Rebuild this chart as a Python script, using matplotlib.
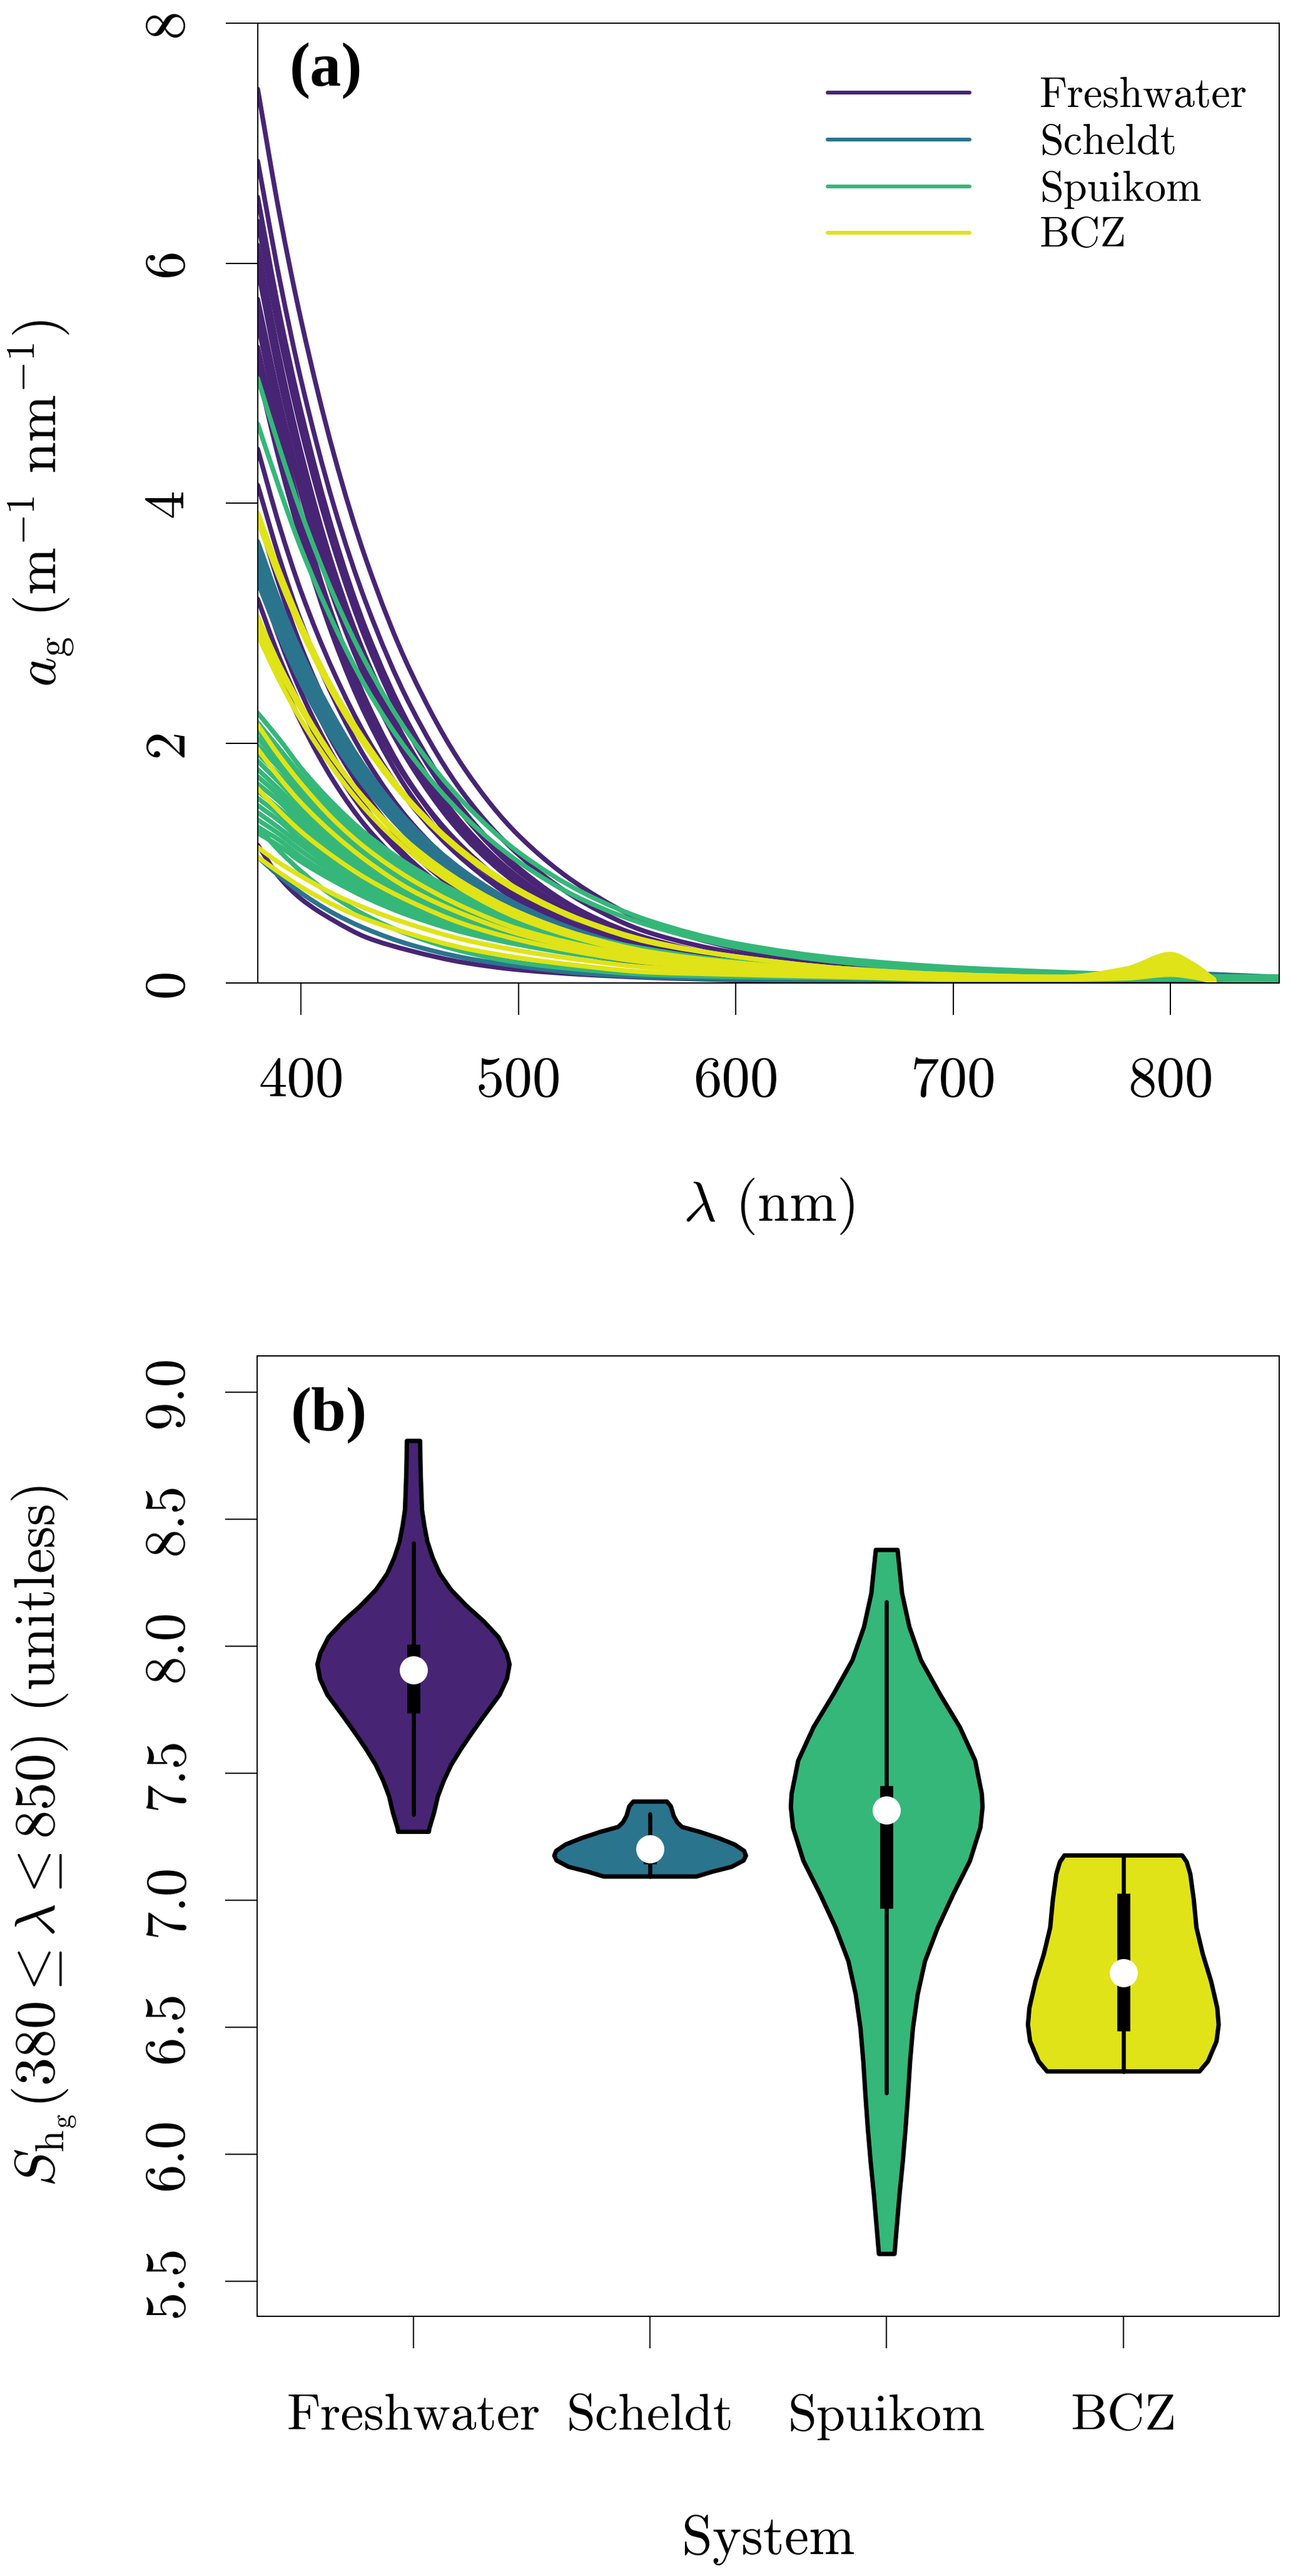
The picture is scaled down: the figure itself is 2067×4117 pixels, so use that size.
import numpy as np
import matplotlib
matplotlib.use("Agg")
import matplotlib.pyplot as plt
from matplotlib.path import Path
from matplotlib.patches import PathPatch

plt.rcParams['font.family'] = ['cmr10', 'DejaVu Serif']
plt.rcParams['mathtext.fontset'] = 'cm'
plt.rcParams['axes.formatter.use_mathtext'] = True
plt.rcParams['axes.unicode_minus'] = False

# ------------------------------------------------------------------ data
systems = ["Freshwater", "Scheldt", "Spuikom", "BCZ"]
viridis_pos = [0.10, 0.3833, 0.6667, 0.95]

WL = [380, 390, 400, 415, 430, 450, 475, 500, 530, 560, 600, 650, 700, 750, 800, 850]
WL_BCZ = [380, 390, 400, 415, 430, 450, 475, 500, 530, 560, 600, 650, 700, 750, 780, 800, 810, 820]

# a_g spectra (m^-1 nm^-1)
ag_freshwater = [
    [7.45, 6.41, 5.52, 4.41, 3.52, 2.61, 1.79, 1.23, 0.79, 0.50, 0.29, 0.15, 0.08, 0.05, 0.03, 0.02],
    [6.85, 5.87, 5.02, 3.98, 3.16, 2.32, 1.57, 1.07, 0.67, 0.42, 0.25, 0.13, 0.07, 0.04, 0.03, 0.03],
    [6.55, 5.58, 4.76, 3.74, 2.94, 2.14, 1.43, 0.96, 0.59, 0.37, 0.21, 0.11, 0.06, 0.04, 0.03, 0.02],
    [6.35, 5.41, 4.61, 3.63, 2.85, 2.07, 1.39, 0.93, 0.58, 0.36, 0.21, 0.10, 0.06, 0.04, 0.03, 0.02],
    [6.15, 5.21, 4.42, 3.45, 2.70, 1.94, 1.28, 0.85, 0.52, 0.32, 0.18, 0.09, 0.05, 0.03, 0.02, 0.02],
    [6.00, 5.11, 4.36, 3.43, 2.70, 1.96, 1.31, 0.88, 0.54, 0.34, 0.20, 0.10, 0.06, 0.04, 0.03, 0.02],
    [5.95, 5.04, 4.28, 3.34, 2.61, 1.88, 1.24, 0.82, 0.50, 0.31, 0.18, 0.09, 0.05, 0.03, 0.02, 0.02],
    [5.70, 4.86, 4.14, 3.26, 2.56, 1.86, 1.25, 0.84, 0.52, 0.32, 0.19, 0.10, 0.05, 0.04, 0.03, 0.02],
    [5.60, 4.77, 4.07, 3.20, 2.52, 1.83, 1.22, 0.82, 0.51, 0.31, 0.19, 0.09, 0.05, 0.04, 0.03, 0.02],
    [5.50, 4.64, 3.91, 3.03, 2.35, 1.67, 1.09, 0.72, 0.43, 0.26, 0.15, 0.08, 0.04, 0.03, 0.02, 0.02],
    [5.30, 4.49, 3.81, 2.98, 2.32, 1.67, 1.11, 0.73, 0.45, 0.27, 0.16, 0.08, 0.05, 0.03, 0.02, 0.02],
    [5.20, 4.39, 3.70, 2.87, 2.22, 1.58, 1.03, 0.68, 0.41, 0.24, 0.14, 0.07, 0.04, 0.03, 0.02, 0.02],
    [5.10, 4.35, 3.70, 2.91, 2.29, 1.66, 1.12, 0.75, 0.46, 0.29, 0.17, 0.09, 0.05, 0.03, 0.02, 0.02],
    [4.45, 3.81, 3.26, 2.59, 2.05, 1.50, 1.02, 0.69, 0.44, 0.27, 0.17, 0.09, 0.05, 0.03, 0.02, 0.02],
    [4.15, 3.54, 3.01, 2.37, 1.86, 1.35, 0.91, 0.61, 0.38, 0.23, 0.14, 0.08, 0.04, 0.03, 0.02, 0.02],
    [3.90, 3.31, 2.80, 2.19, 1.71, 1.23, 0.81, 0.54, 0.33, 0.20, 0.12, 0.07, 0.04, 0.03, 0.02, 0.02],
    [3.65, 3.08, 2.60, 2.01, 1.56, 1.11, 0.73, 0.47, 0.29, 0.17, 0.11, 0.06, 0.04, 0.03, 0.02, 0.01],
    [3.55, 3.01, 2.55, 1.99, 1.56, 1.12, 0.74, 0.49, 0.30, 0.18, 0.11, 0.06, 0.04, 0.03, 0.02, 0.01],
    [3.40, 2.87, 2.42, 1.88, 1.45, 1.03, 0.68, 0.44, 0.27, 0.16, 0.10, 0.05, 0.03, 0.02, 0.02, 0.01],
    [3.20, 2.71, 2.30, 1.80, 1.40, 1.01, 0.67, 0.44, 0.27, 0.16, 0.11, 0.06, 0.04, 0.02, 0.02, 0.01],
    [3.05, 2.57, 2.17, 1.68, 1.30, 0.93, 0.61, 0.40, 0.24, 0.14, 0.09, 0.05, 0.03, 0.02, 0.01, 0.01],
    [1.15, 0.88, 0.70, 0.52, 0.38, 0.27, 0.17, 0.11, 0.07, 0.045, 0.025, 0.012, 0.006, 0.004, 0.003, 0.002],
]
ag_scheldt = [
    [3.68, 3.18, 2.75, 2.22, 1.78, 1.33, 0.93, 0.65, 0.42, 0.27, 0.17, 0.10, 0.07, 0.06, 0.07, 0.04],
    [3.63, 3.14, 2.72, 2.19, 1.76, 1.31, 0.91, 0.64, 0.41, 0.27, 0.17, 0.09, 0.06, 0.05, 0.07, 0.04],
    [3.58, 3.10, 2.68, 2.16, 1.73, 1.30, 0.90, 0.63, 0.41, 0.26, 0.17, 0.09, 0.06, 0.05, 0.06, 0.04],
    [3.54, 3.06, 2.65, 2.13, 1.71, 1.28, 0.89, 0.62, 0.40, 0.26, 0.17, 0.09, 0.06, 0.05, 0.06, 0.04],
    [3.50, 3.03, 2.62, 2.11, 1.69, 1.27, 0.88, 0.61, 0.40, 0.26, 0.16, 0.09, 0.06, 0.05, 0.08, 0.05],
    [3.46, 2.99, 2.59, 2.08, 1.67, 1.25, 0.87, 0.61, 0.39, 0.25, 0.16, 0.09, 0.06, 0.05, 0.07, 0.04],
    [3.42, 2.96, 2.56, 2.06, 1.66, 1.24, 0.86, 0.60, 0.39, 0.25, 0.16, 0.09, 0.06, 0.05, 0.07, 0.04],
    [3.38, 2.92, 2.53, 2.03, 1.64, 1.22, 0.85, 0.59, 0.38, 0.25, 0.16, 0.09, 0.06, 0.05, 0.06, 0.04],
    [3.34, 2.89, 2.50, 2.01, 1.62, 1.21, 0.84, 0.59, 0.38, 0.25, 0.15, 0.08, 0.05, 0.04, 0.06, 0.03],
    [1.05, 0.89, 0.75, 0.58, 0.45, 0.32, 0.21, 0.14, 0.08, 0.05, 0.03, 0.02, 0.02, 0.02, 0.03, 0.02],
]
ag_spuikom = [
    [5.04, 4.46, 3.92, 3.23, 2.66, 2.06, 1.50, 1.09, 0.75, 0.52, 0.33, 0.20, 0.13, 0.09, 0.06, 0.04],
    [4.66, 4.12, 3.62, 2.99, 2.46, 1.91, 1.39, 1.01, 0.69, 0.48, 0.30, 0.17, 0.10, 0.07, 0.05, 0.04],
    [2.25, 2.03, 1.79, 1.49, 1.24, 0.98, 0.73, 0.54, 0.39, 0.28, 0.18, 0.12, 0.08, 0.06, 0.05, 0.05],
    [2.17, 1.95, 1.73, 1.44, 1.20, 0.95, 0.70, 0.53, 0.37, 0.27, 0.18, 0.12, 0.08, 0.06, 0.05, 0.05],
    [2.10, 1.89, 1.68, 1.40, 1.16, 0.92, 0.68, 0.51, 0.36, 0.26, 0.18, 0.11, 0.08, 0.06, 0.05, 0.05],
    [2.04, 1.84, 1.63, 1.36, 1.13, 0.89, 0.66, 0.50, 0.35, 0.26, 0.17, 0.11, 0.08, 0.06, 0.05, 0.05],
    [1.98, 1.79, 1.58, 1.32, 1.10, 0.87, 0.64, 0.48, 0.34, 0.25, 0.17, 0.11, 0.08, 0.06, 0.05, 0.05],
    [1.91, 1.73, 1.53, 1.27, 1.06, 0.84, 0.62, 0.47, 0.33, 0.24, 0.16, 0.11, 0.08, 0.06, 0.05, 0.05],
    [1.85, 1.67, 1.48, 1.23, 1.03, 0.81, 0.60, 0.45, 0.32, 0.24, 0.16, 0.10, 0.07, 0.06, 0.05, 0.05],
    [1.78, 1.61, 1.43, 1.19, 0.99, 0.78, 0.58, 0.44, 0.31, 0.23, 0.15, 0.10, 0.07, 0.06, 0.05, 0.04],
    [1.72, 1.56, 1.38, 1.15, 0.96, 0.76, 0.57, 0.42, 0.30, 0.22, 0.15, 0.10, 0.07, 0.06, 0.05, 0.04],
    [1.66, 1.51, 1.33, 1.11, 0.93, 0.73, 0.55, 0.41, 0.30, 0.22, 0.15, 0.10, 0.07, 0.06, 0.05, 0.04],
    [1.60, 1.45, 1.29, 1.07, 0.90, 0.71, 0.53, 0.40, 0.29, 0.21, 0.14, 0.10, 0.07, 0.06, 0.05, 0.04],
    [1.54, 1.40, 1.24, 1.03, 0.86, 0.68, 0.51, 0.38, 0.28, 0.20, 0.14, 0.09, 0.07, 0.06, 0.05, 0.04],
    [1.48, 1.35, 1.19, 1.00, 0.83, 0.66, 0.49, 0.37, 0.27, 0.20, 0.14, 0.09, 0.07, 0.05, 0.05, 0.04],
    [1.42, 1.29, 1.15, 0.96, 0.80, 0.63, 0.47, 0.36, 0.26, 0.19, 0.13, 0.09, 0.07, 0.05, 0.05, 0.04],
    [1.36, 1.24, 1.10, 0.92, 0.77, 0.61, 0.46, 0.34, 0.25, 0.18, 0.13, 0.09, 0.07, 0.05, 0.05, 0.04],
    [1.30, 1.19, 1.05, 0.88, 0.74, 0.58, 0.44, 0.33, 0.24, 0.18, 0.12, 0.08, 0.06, 0.05, 0.05, 0.04],
    [1.25, 1.14, 1.01, 0.85, 0.71, 0.56, 0.42, 0.32, 0.23, 0.17, 0.12, 0.08, 0.06, 0.05, 0.05, 0.04],
    [1.30, 1.10, 0.93, 0.72, 0.56, 0.40, 0.26, 0.17, 0.11, 0.07, 0.05, 0.04, 0.03, 0.03, 0.03, 0.02],
]
ag_bcz = [
    [3.92, 3.43, 2.99, 2.44, 2.00, 1.52, 1.09, 0.78, 0.52, 0.35, 0.22, 0.12, 0.07, 0.05, 0.10, 0.18, 0.12, 0.02],
    [3.85, 3.37, 2.94, 2.40, 1.96, 1.50, 1.07, 0.76, 0.51, 0.34, 0.22, 0.12, 0.07, 0.05, 0.12, 0.24, 0.16, 0.03],
    [2.98, 2.60, 2.28, 1.86, 1.52, 1.16, 0.83, 0.59, 0.39, 0.26, 0.17, 0.10, 0.06, 0.04, 0.08, 0.14, 0.10, 0.02],
    [3.05, 2.65, 2.31, 1.87, 1.51, 1.14, 0.81, 0.57, 0.37, 0.25, 0.16, 0.09, 0.05, 0.04, 0.10, 0.20, 0.14, 0.02],
    [2.90, 2.52, 2.19, 1.78, 1.44, 1.09, 0.77, 0.54, 0.36, 0.23, 0.15, 0.09, 0.05, 0.04, 0.07, 0.12, 0.08, 0.01],
    [2.15, 1.89, 1.66, 1.36, 1.12, 0.87, 0.63, 0.45, 0.31, 0.21, 0.14, 0.08, 0.05, 0.04, 0.09, 0.16, 0.11, 0.02],
    [1.95, 1.71, 1.50, 1.24, 1.02, 0.78, 0.57, 0.41, 0.28, 0.19, 0.13, 0.08, 0.05, 0.04, 0.06, 0.10, 0.07, 0.01],
    [1.62, 1.43, 1.26, 1.05, 0.87, 0.68, 0.49, 0.36, 0.25, 0.17, 0.12, 0.08, 0.05, 0.04, 0.08, 0.13, 0.09, 0.02],
    [1.13, 1.00, 0.89, 0.74, 0.62, 0.49, 0.36, 0.27, 0.19, 0.13, 0.10, 0.06, 0.04, 0.03, 0.05, 0.09, 0.06, 0.01],
    [1.05, 0.92, 0.80, 0.65, 0.53, 0.41, 0.29, 0.21, 0.14, 0.09, 0.07, 0.05, 0.03, 0.03, 0.04, 0.07, 0.05, 0.01],
]

# violin outlines: S level and half-width (x units)
vio_fresh_s = [7.269, 7.282, 7.344, 7.408, 7.470, 7.533, 7.595, 7.658, 7.721, 7.808, 7.871, 7.928,
               7.971, 8.035, 8.097, 8.160, 8.222, 8.285, 8.348, 8.410, 8.473, 8.536, 8.662, 8.740, 8.807]
vio_fresh_w = [0.065, 0.067, 0.087, 0.103, 0.128, 0.160, 0.201, 0.247, 0.295, 0.364, 0.395, 0.406,
               0.394, 0.359, 0.297, 0.222, 0.158, 0.111, 0.081, 0.059, 0.046, 0.036, 0.031, 0.029, 0.028]
vio_scheldt_s = [7.093, 7.112, 7.131, 7.156, 7.175, 7.194, 7.219, 7.244, 7.269, 7.288, 7.306, 7.331, 7.369, 7.388]
vio_scheldt_w = [0.196, 0.263, 0.344, 0.395, 0.405, 0.397, 0.357, 0.290, 0.209, 0.135, 0.115, 0.100, 0.088, 0.071]
vio_spuikom_s = [5.608, 5.708, 5.840, 5.971, 6.103, 6.234, 6.366, 6.497, 6.629, 6.760, 6.892, 7.023,
                 7.155, 7.286, 7.366, 7.418, 7.549, 7.681, 7.812, 7.944, 8.075, 8.207, 8.378]
vio_spuikom_w = [0.033, 0.042, 0.054, 0.068, 0.080, 0.090, 0.099, 0.111, 0.131, 0.162, 0.216, 0.281,
                 0.352, 0.396, 0.405, 0.402, 0.374, 0.309, 0.224, 0.145, 0.096, 0.065, 0.046]
vio_bcz_s = [6.326, 6.366, 6.445, 6.510, 6.576, 6.681, 6.787, 6.892, 7.000, 7.103, 7.150, 7.176]
vio_bcz_w = [0.322, 0.358, 0.394, 0.403, 0.397, 0.371, 0.336, 0.309, 0.298, 0.283, 0.268, 0.249]

whisker_lo = [7.336, 7.093, 6.242, 6.326]
box_q1 = [7.737, 7.143, 6.968, 6.484]
median_s = [7.905, 7.201, 7.355, 6.713]
box_q3 = [8.007, 7.250, 7.449, 7.026]
whisker_hi = [8.405, 7.339, 8.173, 7.176]

xticks_a = [400, 500, 600, 700, 800]
yticks_a = [0, 2, 4, 6, 8]
yticks_b = [5.5, 6.0, 6.5, 7.0, 7.5, 8.0, 8.5, 9.0]

# ------------------------------------------------------------------ figure
W, H, DPI = 2067, 4117, 72
fig = plt.figure(figsize=(W / DPI, H / DPI), dpi=DPI)
fig.patch.set_facecolor('white')

def axes_px(l, t, r, b):
    return fig.add_axes([l / W, 1 - b / H, (r - l) / W, (b - t) / H])

cmap = plt.get_cmap('viridis')
colors = [cmap(p) for p in viridis_pos]

TICK_FS = 91
LAB_FS = 91

def style_axes(ax):
    for sp in ax.spines.values():
        sp.set_linewidth(2)
    ax.tick_params(direction='out', length=51, width=2, labelsize=TICK_FS)

def smooth_path(x, y):
    """Monotone cubic Hermite through the read points, drawn as Bezier segments."""
    x = np.asarray(x, float); y = np.asarray(y, float)
    n = len(x)
    h = np.diff(x); d = np.diff(y) / h
    m = np.zeros(n)
    m[0] = d[0]; m[-1] = d[-1]
    for k in range(1, n - 1):
        if d[k - 1] * d[k] <= 0:
            m[k] = 0.0
        else:
            w1 = 2 * h[k] + h[k - 1]; w2 = h[k] + 2 * h[k - 1]
            m[k] = (w1 + w2) / (w1 / d[k - 1] + w2 / d[k])
    verts = [(x[0], y[0])]; codes = [Path.MOVETO]
    for k in range(n - 1):
        verts += [(x[k] + h[k] / 3, y[k] + m[k] * h[k] / 3),
                  (x[k + 1] - h[k] / 3, y[k + 1] - m[k + 1] * h[k] / 3),
                  (x[k + 1], y[k + 1])]
        codes += [Path.CURVE4] * 3
    return Path(verts, codes)

# ---------------- panel (a)
ax1 = axes_px(412, 37, 2045, 1571)
style_axes(ax1)
draw_order = [(ag_freshwater, WL, colors[0]), (ag_scheldt, WL, colors[1]),
              (ag_spuikom, WL, colors[2]), (ag_bcz, WL_BCZ, colors[3])]
for curves, wl, col in draw_order:
    for c in curves:
        ax1.add_patch(PathPatch(smooth_path(wl, c), facecolor='none', edgecolor=col,
                                lw=7.5, capstyle='round', joinstyle='round'))
ax1.set_xlim(380, 850)
ax1.set_ylim(0, 8)
ax1.set_xticks(xticks_a, [str(v) for v in xticks_a])
ax1.set_yticks(yticks_a, [str(v) for v in yticks_a])
ax1.tick_params(axis='x', pad=66)
ax1.tick_params(axis='y', pad=92.5)
for lab in ax1.get_yticklabels():
    lab.set_rotation(90); lab.set_ha('center'); lab.set_va('center')
ax1.set_xlabel(r'$\lambda$ (nm)', fontsize=LAB_FS)
ax1.xaxis.set_label_coords(0.5, -0.2014)
ax1.set_ylabel(r'$a_{\mathrm{g}}\ (\mathrm{m}^{-1}\ \mathrm{nm}^{-1})$', fontsize=LAB_FS)
ax1.yaxis.set_label_coords(-0.1776, 0.5)
ax1.text(0.0312, 0.9505, '(a)', transform=ax1.transAxes, ha='left', va='center',
         fontsize=100, fontweight='bold', family='Liberation Serif')

# legend drawn by hand to mimic base-R legend
leg_line_y = [0.92764, 0.87875, 0.82986, 0.78194]
leg_text_y = [0.91265, 0.86375, 0.81486, 0.76695]
for name, col, ly, ty in zip(systems, colors, leg_line_y, leg_text_y):
    ax1.plot([0.558, 0.697], [ly, ly], transform=ax1.transAxes, color=col, lw=6,
             solid_capstyle='round')
    ax1.text(0.7655, ty, name, transform=ax1.transAxes, ha='left', va='baseline', fontsize=68)

# ---------------- panel (b)
ax2 = axes_px(411, 2167, 2045, 3702)
style_axes(ax2)
vio_s = [vio_fresh_s, vio_scheldt_s, vio_spuikom_s, vio_bcz_s]
vio_w = [vio_fresh_w, vio_scheldt_w, vio_spuikom_w, vio_bcz_w]
for i in range(4):
    pos = i + 1
    s = np.asarray(vio_s[i]); w = np.asarray(vio_w[i])
    xs = np.concatenate([pos - w, (pos + w)[::-1]])
    ys = np.concatenate([s, s[::-1]])
    ax2.fill(xs, ys, facecolor=colors[i], edgecolor='black', linewidth=7,
             joinstyle='round', zorder=2)
    ax2.plot([pos, pos], [whisker_lo[i], whisker_hi[i]], color='black', lw=6.5,
             solid_capstyle='round', zorder=3)
    ax2.plot([pos, pos], [box_q1[i], box_q3[i]], color='black', lw=21,
             solid_capstyle='butt', zorder=4)
    ax2.plot([pos], [median_s[i]], marker='o', markersize=45, color='white',
             markeredgewidth=0, zorder=5)
ax2.set_xlim(0.339, 4.659)
ax2.set_ylim(5.3624, 9.1416)
ax2.set_xticks([1, 2, 3, 4], systems)
ax2.set_yticks(yticks_b, ['%.1f' % v for v in yticks_b])
ax2.tick_params(axis='x', pad=72.7, labelsize=83)
ax2.tick_params(axis='y', pad=91.5)
for lab in ax2.get_yticklabels():
    lab.set_rotation(90); lab.set_ha('center'); lab.set_va('center')
ax2.set_xlabel('System', fontsize=88)
ax2.xaxis.set_label_coords(0.5, -0.2065)
ax2.set_ylabel(r'$S_{\mathrm{h}_{\mathrm{g}}}(380 \leq \lambda \leq 850)$ (unitless)', fontsize=LAB_FS)
ax2.yaxis.set_label_coords(-0.1750, 0.5)
ax2.text(0.0330, 0.9381, '(b)', transform=ax2.transAxes, ha='left', va='center',
         fontsize=100, fontweight='bold', family='Liberation Serif')

fig.savefig('out.png', dpi=DPI, facecolor='white')
